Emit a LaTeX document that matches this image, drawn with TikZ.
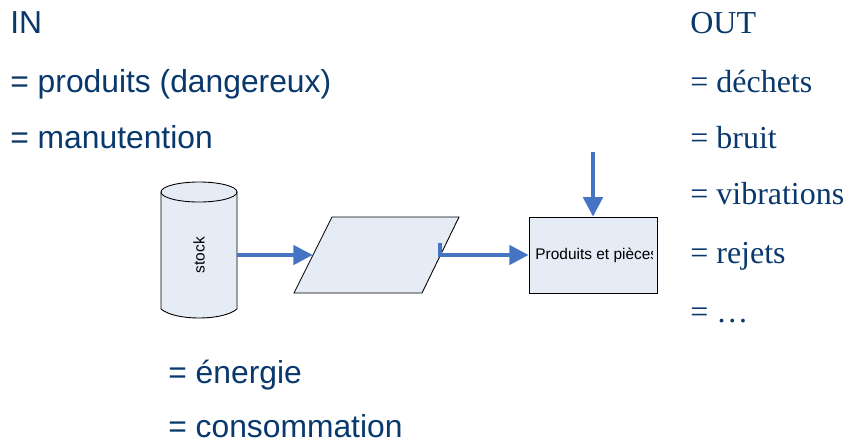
\documentclass[tikz,border=0pt]{standalone}
\usepackage{fontspec}
\usepackage{tikz}
\usetikzlibrary{positioning,arrows.meta}
\newfontfamily\insans{Liberation Sans}
\newfontfamily\outserif{Liberation Serif}
\definecolor{txtblue}{RGB}{8,56,108}
\definecolor{flowblue}{RGB}{70,116,196}
\definecolor{boxfill}{RGB}{230,236,246}

\begin{document}
\begin{tikzpicture}[x=0.02cm, y=-0.02cm,
	inlabel/.style  = {anchor=base west, inner sep=0pt, text=txtblue, font=\insans\fontsize{18.1}{21}\selectfont},
	outlabel/.style = {anchor=base west, inner sep=0pt, text=txtblue, font=\outserif\fontsize{18.2}{21}\selectfont},
	shapebox/.style = {draw=black, fill=boxfill, line width=0.5pt},
	flow/.style     = {draw=flowblue, line width=2.2pt, -{Triangle[length=11pt, width=11pt]}}]
\useasboundingbox (0,0) rectangle (849,444);

% IN
\node[inlabel] (in)   at (10,33)  {IN};
\node[inlabel] (in 1) at (10,92)  {= produits (dangereux)};
\node[inlabel] (in 2) at (10,148) {= manutention};
\node[inlabel] (in 3) at (168,383) {= énergie};
\node[inlabel] (in 4) at (168,437) {= consommation};

% OUT
\node[outlabel] (out)   at (690,33)  {OUT};
\node[outlabel] (out 1) at (690,92)  {= déchets};
\node[outlabel] (out 2) at (690,148) {= bruit};
\node[outlabel] (out 3) at (690,204) {= vibrations};
\node[outlabel] (out 4) at (690,263) {= rejets};
\node[outlabel] (out 5) at (690,322) {= \dots};

% stock
\filldraw[shapebox] (161,192) -- (161,309) .. controls (175,321) and (223,321) .. (237,309) -- (237,192) -- cycle;
\filldraw[shapebox] (199,192) ellipse [x radius=38, y radius=10];
\node[minimum width=1.52cm, minimum height=0.4cm, inner sep=0pt] (cyl) at (199,255) {};
\node[rotate=90, inner sep=0pt, font=\insans\fontsize{8.8}{10}\selectfont] (stock) at (cyl) {stock};

% traitement
\filldraw[shapebox] (332,217) -- (459,217) -- (422,293) -- (294,293) -- cycle;
\node[minimum width=2.54cm, minimum height=0.4cm, inner sep=0pt] (para) at (376.5,255) {};

% produits
\node[shapebox, minimum width=2.56cm, minimum height=1.52cm, inner sep=0pt] (prod) at (593,255) {};
\begin{scope}
	\clip (prod.south west) rectangle ([shift={(-5,0)}]prod.north east);
	\node[anchor=west, inner sep=0pt, font=\insans\fontsize{8.8}{10}\selectfont] (prod text) at (535,255) {Produits et pièces};
\end{scope}
\coordinate (feed) at (593,152);

\draw[flow] (cyl.east) -- (para.west);
\draw[flow] ([shift={(0,-12)}]para.east) -- (para.east) -- (prod.west);
\draw[flow] (feed) -- (prod.north);

\end{tikzpicture}
\end{document}
